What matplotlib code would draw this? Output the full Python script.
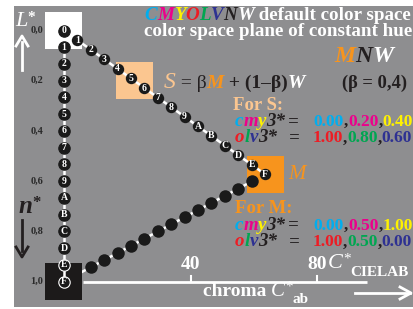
import numpy as np
import matplotlib
matplotlib.use("Agg")
import matplotlib.pyplot as plt
from matplotlib.patches import Rectangle

# --- data ---
hex_labels = list("0123456789ABCDEF")
steps = np.arange(16) / 15
M_chroma, M_n = 63.5, 0.573        # position of M (chroma C*ab, relative n*)
S_chroma, S_n = 22.4, 0.20         # position of the S colour patch
x_ticks = [40, 80]
y_ticks = [0.0, 0.2, 0.4, 0.6, 0.8, 1.0]
y_ticklabels = ["0,0", "0,2", "0,4", "0,6", "0,8", "1,0"]
cmy_S = ["0.00", "0.20", "0.40"]
olv_S = ["1.00", "0.80", "0.60"]
cmy_M = ["0.00", "0.50", "1.00"]
olv_M = ["1.00", "0.50", "0.00"]

# --- colours ---
GRAY = "#8e8e90"
C_, M_, Y_ = "#00aeef", "#ec008c", "#fff200"
O_, L_, V_ = "#ed1c24", "#00a651", "#2e3192"
N_ = "#231f20"
ORANGE = "#f7941d"
PEACH = "#fbc690"
FONT = "Liberation Serif"

W, H = 414, 309
fig = plt.figure(figsize=(W / 100, H / 100), dpi=100)
fig.patch.set_facecolor("white")

# axes over the grey area (pixel box 14..414 x 6..307)
ax = fig.add_axes([14 / W, (H - 307) / H, 400 / W, 301 / H])
ax.set_facecolor(GRAY)
for s in ax.spines.values():
    s.set_visible(False)
ax.set_xticks([])
ax.set_yticks([])
px_per_c = 3.167
px_per_n = 251.0
ax.set_xlim((14 - 64) / px_per_c, (414 - 64) / px_per_c)
ax.set_ylim((307 - 30.5) / px_per_n, (6 - 30.5) / px_per_n)

sq_w = 37 / px_per_c
sq_h = 37 / px_per_n


def square(cx, cy, col):
    ax.add_patch(Rectangle((cx - sq_w / 2, cy - sq_h / 2), sq_w, sq_h,
                           facecolor=col, edgecolor="none", zorder=1))


square(0, 0, "white")
square(0, 1, "#1c1a1a")
square(M_chroma, M_n, ORANGE)
square(S_chroma, S_n, PEACH)

# axis line + ticks
ax.plot([6.0, 95.6], [1, 1], color="white", lw=2, zorder=2, solid_capstyle="butt")
for xt in x_ticks:
    ax.plot([xt, xt], [1, 0.98], color="white", lw=1.5, zorder=2)
    ax.text(xt, 0.95, str(xt), color="white", fontsize=14, fontweight="bold",
            family=FONT, ha="center", va="baseline", zorder=5)

for yv, lab in zip(y_ticks, y_ticklabels):
    ax.text(-6.5, yv, lab, color="#2a2a2a", fontsize=7.5, fontweight="bold",
            family=FONT, ha="right", va="center")

# vertical W -> N
vx = np.zeros(16)
vy = steps
# diagonal W -> M
dx = steps * M_chroma
dy = steps * M_n
# lower curve N -> M
lx = steps[2:-1] * M_chroma
ly = 1 + steps[2:-1] * (M_n - 1)

ax.plot(vx, vy, color="white", lw=1.8, zorder=2)
ax.plot(dx, dy, color="white", lw=1.8, zorder=2)
ax.plot(np.r_[0, steps[1:] * M_chroma], np.r_[1, 1 + steps[1:] * (M_n - 1)],
        color="white", lw=1.8, zorder=0.8)
ax.plot(lx, ly, "o", color="#1a1a1a", ms=9, mec="none", zorder=3)

for i in range(16):
    edge = "white" if i >= 14 else "#1a1a1a"
    ax.plot(vx[i], vy[i], "o", color="#1a1a1a", ms=8.2, mec=edge, mew=0.8, zorder=3)
    ax.text(vx[i], vy[i], hex_labels[i], color="white", fontsize=7,
            fontweight="bold", family=FONT, ha="center", va="center", zorder=4)
    if i > 0:
        ax.plot(dx[i], dy[i], "o", color="#1a1a1a", ms=8.2, mec="none", zorder=3)
        ax.text(dx[i], dy[i], hex_labels[i], color="white", fontsize=7,
                fontweight="bold", family=FONT, ha="center", va="center", zorder=4)

# cut-off S at the bottom
ax.text(7.5, 1.11, "S", color=ORANGE, fontsize=13, fontstyle="italic",
        family=FONT, ha="center", va="top", zorder=5)

renderer = fig.canvas.get_renderer()


def parts_text(px, py, parts, size=13, ha="left"):
    x = px
    made = []
    for p in parts:
        txt, col = p[0], p[1]
        opt = p[2] if len(p) > 2 else {}
        t = fig.text(x / W, 1 - (py - opt.get("dy", 0)) / H, txt, color=col,
                     fontsize=opt.get("size", size),
                     fontstyle=opt.get("style", "normal"),
                     fontweight=opt.get("weight", "bold"),
                     family=FONT, ha="left", va="baseline", zorder=6)
        bb = t.get_window_extent(renderer)
        x = bb.x1 + opt.get("gap", 0)
        made.append(t)
    if ha == "right":
        shift = (px - x) / W
        for t in made:
            a, b = t.get_position()
            t.set_position((a + shift, b))


it = {"style": "italic"}
parts_text(411, 20.5, [("C", C_, it), ("M", M_, it), ("Y", Y_, it), ("O", O_, it),
                       ("L", L_, it), ("V", V_, it), ("N", N_, it), ("W", "white", it),
                       (" default color space", "white")], size=13.7, ha="right")
parts_text(412, 36, [("color space plane of constant hue", "white")], size=13.7, ha="right")
parts_text(393, 62.5, [("M", ORANGE, it), ("N", N_, it), ("W", "white", it)],
           size=17, ha="right")

parts_text(164, 88, [("S", PEACH, {"style": "italic", "weight": "normal", "size": 17}),
                     (" = β", N_, {"weight": "normal"}),
                     ("M", ORANGE, it), (" + (1–β)", N_), ("W", "white", it)], size=14)
parts_text(342, 88, [("(β = 0,4)", N_)], size=13.3)


def cmy_olv(y_cmy, y_olv, cmy, olv):
    parts_text(235, y_cmy, [("c", C_, it), ("m", M_, it), ("y", Y_, it), ("3*", N_, it)],
               size=13.6)
    parts_text(288, y_cmy, [("=", N_, it)], size=13.6)
    parts_text(413, y_cmy, [(cmy[0], C_), (",", N_), (cmy[1], M_), (",", N_), (cmy[2], Y_)],
               size=12.6, ha="right")
    parts_text(235, y_olv, [("o", O_, it), ("l", L_, it), ("v", V_, it), ("3*", N_, it)],
               size=13.6)
    parts_text(289, y_olv, [("=", N_, it)], size=13.6)
    parts_text(412, y_olv, [(olv[0], O_), (",", N_), (olv[1], L_), (",", N_), (olv[2], V_)],
               size=12.6, ha="right")


parts_text(233, 110, [("For S:", PEACH)], size=13.5)
cmy_olv(126, 142.5, cmy_S, olv_S)

parts_text(288, 179, [("M", ORANGE, {"style": "italic", "weight": "normal"})], size=15)

parts_text(235, 213, [("For M:", ORANGE)], size=13.5)
cmy_olv(229.5, 246.5, cmy_M, olv_M)

# C*CIELAB after the 80 tick label
parts_text(328, 268, [("C", "white", {"style": "italic", "weight": "normal", "size": 16}),
                      ("*", "white", {"dy": 5, "size": 11, "weight": "normal"}),
                      ("CIELAB", "white", {"dy": -8, "size": 11})], size=13)
parts_text(203, 296, [("chroma ", "white"),
                      ("C", "white", {"style": "italic", "weight": "normal", "size": 15}),
                      ("*", "white", {"dy": 5, "size": 11, "weight": "normal"}),
                      ("ab", "white", {"dy": -7, "size": 11})], size=14)

# L* and n* with arrows
parts_text(15, 26, [("L", "white", {"style": "italic", "weight": "normal", "size": 16}),
                    ("*", "white", {"dy": 5, "size": 11})])
parts_text(18, 213, [("n", N_, {"style": "italic", "size": 18}),
                     ("*", N_, {"dy": 6, "size": 12})])

fig.add_artist(plt.Line2D([22 / W, 22 / W], [1 - 70 / H, 1 - 42 / H], color="white", lw=2))
fig.add_artist(plt.Line2D([16 / W, 22 / W, 28 / W], [1 - 46 / H, 1 - 36 / H, 1 - 46 / H],
                          color="white", lw=2))
fig.add_artist(plt.Line2D([22 / W, 22 / W], [1 - 220 / H, 1 - 251 / H], color=N_, lw=2))
fig.add_artist(plt.Line2D([16 / W, 22 / W, 28 / W], [1 - 247 / H, 1 - 257 / H, 1 - 247 / H],
                          color=N_, lw=2))
fig.add_artist(plt.Line2D([355 / W, 410 / W], [1 - 293 / H, 1 - 293 / H], color="white", lw=2))
fig.add_artist(plt.Line2D([400 / W, 411 / W, 400 / W], [1 - 287 / H, 1 - 293 / H, 1 - 299 / H],
                          color="white", lw=2))

fig.savefig("out.png", dpi=100)
